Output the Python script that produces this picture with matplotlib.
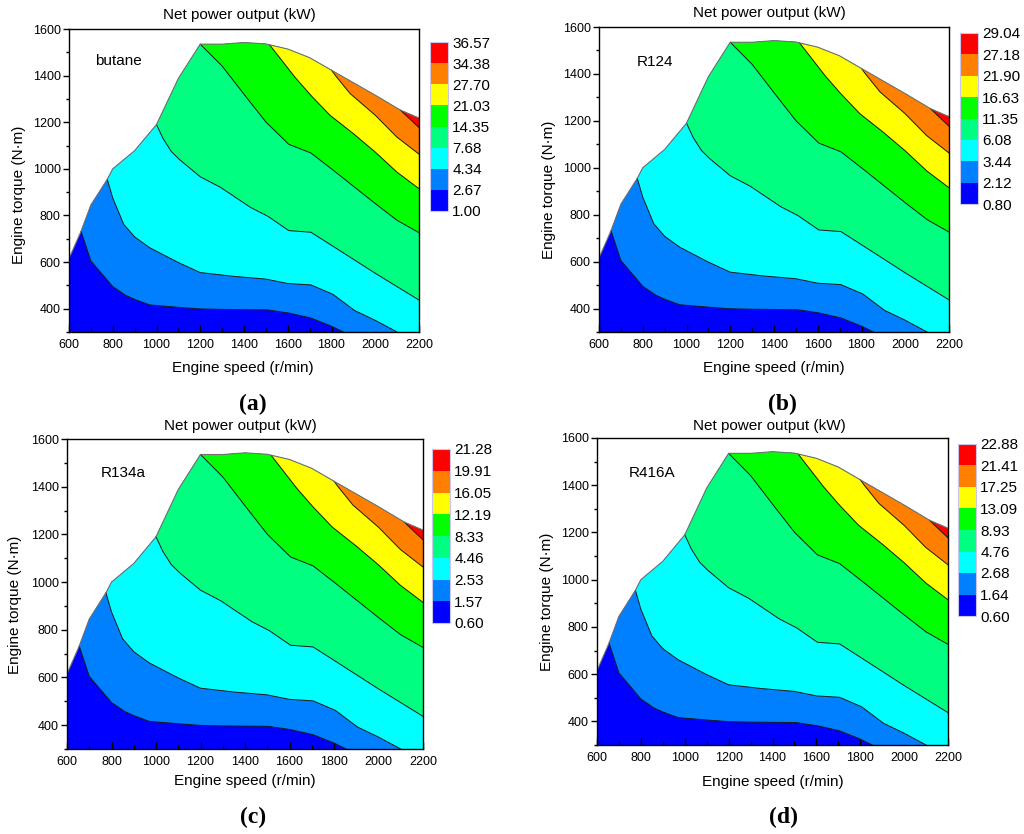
import matplotlib
matplotlib.use("Agg")
import matplotlib.pyplot as plt
from matplotlib.colors import ListedColormap, BoundaryNorm
import matplotlib.colorbar as mcolorbar
from matplotlib.ticker import MultipleLocator

plt.rcParams['font.family'] = ['Liberation Sans', 'DejaVu Sans']

# ---------------- data ----------------
fluids = ["butane", "R124", "R134a", "R416A"]
panel_letters = ["(a)", "(b)", "(c)", "(d)"]

levels_butane = [1.00, 2.67, 4.34, 7.68, 14.35, 21.03, 27.70, 34.38, 36.57]
levels_r124 = [0.80, 2.12, 3.44, 6.08, 11.35, 16.63, 21.90, 27.18, 29.04]
levels_r134a = [0.60, 1.57, 2.53, 4.46, 8.33, 12.19, 16.05, 19.91, 21.28]
levels_r416a = [0.60, 1.64, 2.68, 4.76, 8.93, 13.09, 17.25, 21.41, 22.88]

band_colors = ["#0000FF", "#0080FF", "#00FFFF", "#00FF80",
               "#00FF00", "#FFFF00", "#FF8000", "#FF0000"]

# full-load torque envelope (upper boundary of the map)
env_speed = [600, 655, 700, 775, 800, 900, 1000, 1100, 1200, 1300, 1400,
             1500, 1600, 1700, 1800, 2000, 2115, 2200]
env_torque = [615, 732, 845, 955, 1000, 1078, 1190, 1388, 1535, 1535, 1542,
              1536, 1514, 1477, 1423, 1316, 1252, 1218]

# iso-power boundaries between consecutive bands
b1_speed = [655, 700, 800, 860, 900, 970, 1100, 1200, 1300, 1400, 1507, 1607, 1706, 1800, 1855]
b1_torque = [732, 605, 495, 457, 440, 416, 406, 399, 397, 396, 395, 381, 360, 325, 300]

b2_speed = [775, 800, 850, 900, 970, 1100, 1200, 1350, 1500, 1600, 1706, 1806, 1906, 2000, 2100]
b2_torque = [955, 875, 762, 708, 661, 598, 555, 539, 527, 508, 502, 462, 392, 350, 300]

b3_speed = [1000, 1030, 1068, 1105, 1200, 1292, 1431, 1510, 1605, 1706, 1800, 2000, 2200]
b3_torque = [1190, 1130, 1074, 1040, 966, 921, 834, 796, 735, 728, 672, 552, 437]

b4_speed = [1200, 1300, 1410, 1500, 1605, 1706, 1808, 2000, 2100, 2200]
b4_torque = [1535, 1441, 1308, 1201, 1105, 1068, 994, 851, 779, 726]

b5_speed = [1518, 1633, 1705, 1793, 1900, 2000, 2099, 2200]
b5_torque = [1531, 1393, 1316, 1230, 1151, 1072, 986, 915]

b6_speed = [1800, 1820, 1885, 2000, 2098, 2200]
b6_torque = [1423, 1398, 1323, 1230, 1137, 1063]

b7_speed = [2115, 2200]
b7_torque = [1252, 1177]

boundaries = [(b1_speed, b1_torque), (b2_speed, b2_torque), (b3_speed, b3_torque),
              (b4_speed, b4_torque), (b5_speed, b5_torque), (b6_speed, b6_torque),
              (b7_speed, b7_torque)]

all_levels = [levels_butane, levels_r124, levels_r134a, levels_r416a]

# ---------------- layout (pixels) ----------------
W, H = 1024, 834
axes_px = [(69, 29, 419, 332), (599, 27, 949, 332), (67, 439, 423, 749), (597, 438, 948, 745)]
cbar_px = [(430, 42, 448, 211), (960, 33, 978, 204), (432, 449, 450, 623), (958, 444, 976, 616)]
title_px = [(239, 15), (769, 13), (240, 426), (769, 426)]
xlabel_px = [(243, 368), (774, 368), (245, 781), (773, 782)]
ylabel_px = [(19, 195), (549, 190), (15, 605), (547, 602)]
letter_px = [(253, 404), (782, 404), (253, 817), (783, 817)]
name_pos = [(720, 1461), (771, 1451), (750, 1456), (747, 1452)]


def rect(l, t, r, b):
    return [l / W, 1 - b / H, (r - l) / W, (b - t) / H]


fig = plt.figure(figsize=(W / 100, H / 100), dpi=100)

XMIN, XMAX, YMIN, YMAX = 600, 2200, 300, 1600

for i in range(4):
    ax = fig.add_axes(rect(*axes_px[i]))
    # base region: whole envelope
    poly_x = [XMIN] + env_speed + [XMAX]
    poly_y = [YMIN] + env_torque + [YMIN]
    ax.fill(poly_x, poly_y, color=band_colors[0], lw=0, zorder=1)
    # successive bands, each covering the region beyond its lower boundary
    for k, (bs, bt) in enumerate(boundaries):
        s0 = bs[0]
        px = list(bs) + [XMAX]
        py = list(bt) + [YMIN]
        tail = [(s, t) for s, t in zip(env_speed, env_torque) if s > s0]
        for s, t in reversed(tail):
            px.append(s)
            py.append(t)
        ax.fill(px, py, color=band_colors[k + 1], lw=0, zorder=2 + k)
    for bs, bt in boundaries:
        ax.plot(bs, bt, color="#1a1a1a", lw=0.7, zorder=20)
    ax.plot(env_speed, env_torque, color="#707070", lw=0.8, zorder=21)

    ax.set_xlim(XMIN, XMAX)
    ax.set_ylim(YMIN, YMAX)
    ax.xaxis.set_major_locator(MultipleLocator(200))
    ax.xaxis.set_minor_locator(MultipleLocator(100))
    ax.yaxis.set_major_locator(MultipleLocator(200))
    ax.yaxis.set_minor_locator(MultipleLocator(100))
    ax.set_yticks([400, 600, 800, 1000, 1200, 1400, 1600])
    ax.tick_params(axis='x', which='major', direction='in', length=5, width=1, labelsize=9, pad=5)
    ax.tick_params(axis='x', which='minor', direction='in', length=3, width=1)
    ax.tick_params(axis='y', which='major', direction='out', length=4, width=1, labelsize=9, pad=2)
    ax.tick_params(axis='y', which='minor', direction='out', length=2.5, width=1)
    for sp in ax.spines.values():
        sp.set_linewidth(1.0)
        sp.set_zorder(30)
    ax.text(name_pos[i][0], name_pos[i][1], fluids[i], fontsize=11,
            ha='left', va='center', zorder=40)

    # colorbar
    cax = fig.add_axes(rect(*cbar_px[i]))
    lv = all_levels[i]
    cmap = ListedColormap(band_colors)
    norm = BoundaryNorm(lv, cmap.N)
    cb = mcolorbar.ColorbarBase(cax, cmap=cmap, norm=norm, boundaries=lv,
                                spacing='uniform', ticks=lv, orientation='vertical')
    cb.set_ticklabels(["%.2f" % v for v in lv])
    cax.tick_params(length=0, labelsize=11, pad=3)
    cb.outline.set_edgecolor("#c8c8ee")
    cb.outline.set_linewidth(0.8)

    fig.text(title_px[i][0] / W, 1 - title_px[i][1] / H, "Net power output (kW)",
             ha='center', va='center', fontsize=11)
    fig.text(xlabel_px[i][0] / W, 1 - xlabel_px[i][1] / H, "Engine speed (r/min)",
             ha='center', va='center', fontsize=11)
    fig.text(ylabel_px[i][0] / W, 1 - ylabel_px[i][1] / H, "Engine torque (N\u00b7m)",
             ha='center', va='center', fontsize=11, rotation=90)
    fig.text(letter_px[i][0] / W, 1 - letter_px[i][1] / H, panel_letters[i],
             ha='center', va='center', fontsize=17, fontweight='bold',
             family=['Liberation Serif', 'DejaVu Serif'])

fig.savefig("out.png", dpi=100)
